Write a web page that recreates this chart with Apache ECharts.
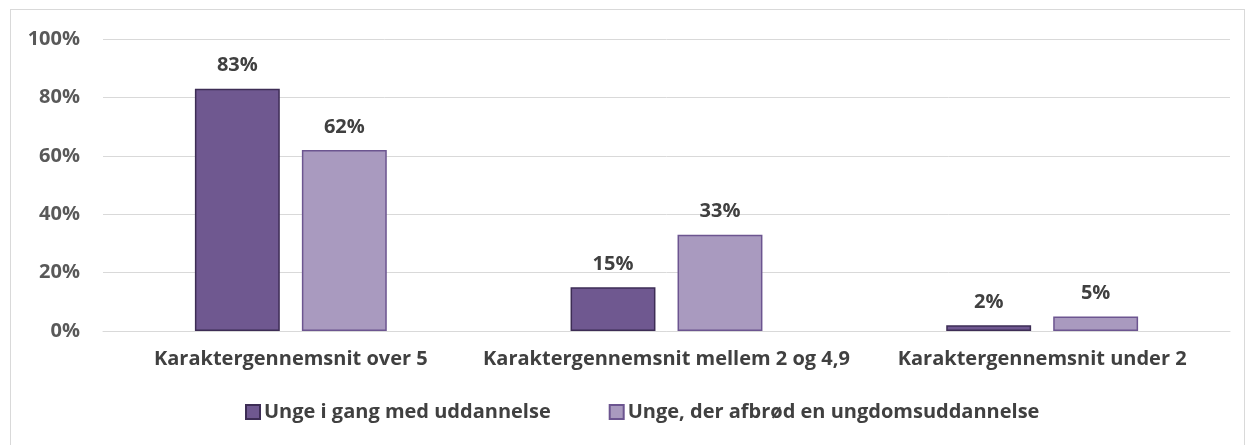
<!DOCTYPE html>
<html>
<head>
<meta charset="utf-8">
<script src="https://cdn.jsdelivr.net/npm/echarts@6/dist/echarts.min.js"></script>
<style>
  html, body {margin: 0; padding: 0; background: #fff;}
  #frame {position: absolute; left: 10px; top: 9px; width: 1235px; height: 445px; border: 1px solid #d9d9d9; box-sizing: border-box;}
  #main {position: absolute; left: 0; top: 0; width: 1248px; height: 445px;}
</style>
</head>
<body>
<div id="frame"></div>
<div id="main"></div>
<script>
// kategorier og værdier (procent)
var categories = ['Karaktergennemsnit over 5', 'Karaktergennemsnit mellem 2 og 4,9', 'Karaktergennemsnit under 2'];
var seriesNames = ['Unge i gang med uddannelse', 'Unge, der afbrød en ungdomsuddannelse'];
var iGang = [83, 15, 2];
var afbrod = [62, 33, 5];
var yTicks = [0, 20, 40, 60, 80, 100];

var font = '"Open Sans", sans-serif';
var myChart = echarts.init(document.getElementById('main'));

function labelCfg() {
    return {
        show: true,
        position: 'top',
        distance: 13,
        formatter: '{c}%',
        color: '#404040',
        fontFamily: font,
        fontWeight: 'bold',
        fontSize: 20
    };
}

myChart.setOption({
    animation: false,
    grid: {left: 103, right: 18, top: 39, bottom: 114},
    legend: {
        data: seriesNames,
        bottom: 18,
        left: 240,
        icon: 'rect',
        itemWidth: 14,
        itemHeight: 14,
        itemGap: 58,
        textStyle: {color: '#404040', fontFamily: font, fontWeight: 'bold', fontSize: 20, padding: [0, 0, 0, -1]}
    },
    xAxis: {
        type: 'category',
        data: categories,
        axisLine: {lineStyle: {color: '#d9d9d9', width: 1}},
        axisTick: {show: false},
        axisLabel: {interval: 0, color: '#404040', fontFamily: font, fontWeight: 'bold', fontSize: 20, margin: 18}
    },
    yAxis: {
        type: 'value',
        min: yTicks[0],
        max: yTicks[yTicks.length - 1],
        interval: 20,
        axisLine: {show: false},
        axisTick: {show: false},
        splitLine: {lineStyle: {color: '#d9d9d9', width: 1}},
        axisLabel: {formatter: '{value}%', color: '#595959', fontFamily: font, fontWeight: 'bold', fontSize: 20, margin: 23}
    },
    series: [
        {
            name: seriesNames[0],
            type: 'bar',
            data: iGang,
            barWidth: '22.6%',
            barGap: '26%',
            itemStyle: {color: '#6f5890', borderColor: '#3d2d55', borderWidth: 1.5},
            label: labelCfg()
        },
        {
            name: seriesNames[1],
            type: 'bar',
            data: afbrod,
            barWidth: '22.6%',
            itemStyle: {color: '#a99abf', borderColor: '#6c5590', borderWidth: 1.5},
            label: labelCfg()
        }
    ]
});
</script>
</body>
</html>
